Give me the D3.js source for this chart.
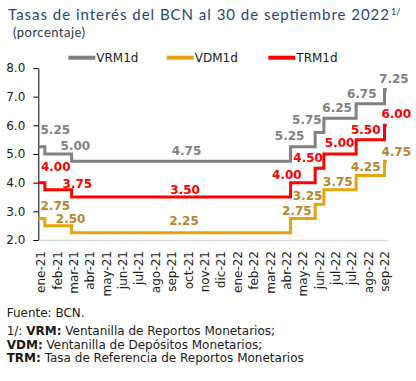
<!DOCTYPE html>
<html>
<head>
<meta charset="utf-8">
<script src="https://cdn.jsdelivr.net/npm/d3@7"></script>
<style>
  html, body { margin: 0; padding: 0; background: #fff; }
  svg { display: block; }
  text { font-family: "DejaVu Sans", Verdana, sans-serif; }
</style>
</head>
<body>
<svg id="chart" width="416" height="381"></svg>
<script>
// ---------------- DATA ----------------
const changeDates = ["2021-01-03","2021-01-15","2021-03-05","2022-04-10","2022-05-25","2022-06-10","2022-08-08","2022-09-29"];
const endDate = "2022-10-03";
const seriesNames = ["VRM1d", "VDM1d", "TRM1d"];
const vrm = [5.25, 5.00, 4.75, 5.25, 5.75, 6.25, 6.75, 7.25];
const vdm = [2.75, 2.50, 2.25, 2.75, 3.25, 3.75, 4.25, 4.75];
const trm = [4.00, 3.75, 3.50, 4.00, 4.50, 5.00, 5.50, 6.00];
const yTicks = [2, 3, 4, 5, 6, 7, 8];
const firstTickDate = "2021-01-07";
const tickLabels = ["ene-21","feb-21","mar-21","abr-21","may-21","jun-21","jul-21","ago-21","sep-21","oct-21","nov-21","dic-21",
                    "ene-22","feb-22","mar-22","abr-22","may-22","jun-22","jul-22","jul-22","ago-22","sep-22"];

// ---------------- LAYOUT / STYLE ----------------
const W = 416, H = 381;
const plot = { left: 38.3, right: 386.7, top: 68, bottom: 240 };
const colors = { VRM1d: "#808080", VDM1d: "#e6a30c", TRM1d: "#ff0000" };
const labelColors = { VRM1d: "#828282", VDM1d: "#b8862b", TRM1d: "#ff0000" };
// label nudges (pixels) relative to each segment start / level
const labelDx = {
  VRM1d: [17, 30.5, 114.9, -1, -8.3, 13.2, 5.6, 9.4],
  VDM1d: [17, 25.8, 112.4, 6.3, -7.5, 14, 9.6, 11.7],
  TRM1d: [17.4, 32.5, 113.5, -3.7, -7, 15.7, 9.6, 11.7]
};
const labelDy = {
  VRM1d: [-12.8, -4, -6, -7, -8.5, -6, -5.5, -6.2],
  VDM1d: [-8.5, -2.7, -7.8, -3.5, -4.2, -4, -4.5, -5.5],
  TRM1d: [-11.7, -2, -3, -3.7, -6.3, -7, -5.7, -7.3]
};

const parse = d3.timeParse("%Y-%m-%d");
const dates = changeDates.map(parse);
const end = parse(endDate);
const seriesVals = { VRM1d: vrm, VDM1d: vdm, TRM1d: trm };

const svg = d3.select("#chart");
svg.append("rect").attr("width", W).attr("height", H).attr("fill", "#fff");

const x = d3.scaleTime().domain([dates[0], end]).range([plot.left, plot.right]);
const y = d3.scaleLinear().domain([2, 8]).range([plot.bottom, plot.top]);

// ---------------- TITLE ----------------
svg.append("text")
  .attr("x", 8).attr("y", 20)
  .attr("fill", "#24477a")
  .style("font-family", "Lato, 'Open Sans', sans-serif")
  .style("font-size", "15px")
  .attr("textLength", 381).attr("lengthAdjust", "spacing")
  .text("Tasas de interés del BCN al 30 de septiembre 2022");
svg.append("text")
  .attr("x", 391).attr("y", 15)
  .attr("fill", "#24477a")
  .style("font-family", "Lato, 'Open Sans', sans-serif")
  .style("font-size", "9px")
  .text("1/");
svg.append("text")
  .attr("x", 13).attr("y", 37)
  .attr("fill", "#2b3550")
  .style("font-family", "Lato, 'Open Sans', sans-serif")
  .style("font-size", "13px")
  .attr("textLength", 72).attr("lengthAdjust", "spacing")
  .text("(porcentaje)");

// ---------------- LEGEND ----------------
const legendX = [68.3, 166.7, 268.3];
const legendY = 57.7;
seriesNames.forEach((name, i) => {
  const g = svg.append("g");
  g.append("line")
    .attr("x1", legendX[i]).attr("x2", legendX[i] + 27)
    .attr("y1", legendY).attr("y2", legendY)
    .attr("stroke", colors[name]).attr("stroke-width", 4);
  g.append("text")
    .attr("x", legendX[i] + 28).attr("y", legendY + 4.3)
    .attr("fill", "#1a1a1a")
    .style("font-size", "12px")
    .text(name);
});

// ---------------- AXES ----------------
const yAxis = svg.append("g")
  .attr("transform", `translate(${plot.left},0)`)
  .call(d3.axisLeft(y).tickValues(yTicks).tickFormat(d3.format(".1f")).tickSize(5).tickPadding(8).tickSizeOuter(0));
yAxis.select(".domain").attr("stroke", "#000").attr("stroke-width", 1);
yAxis.selectAll(".tick line").attr("stroke", "#000");
yAxis.selectAll(".tick text").attr("fill", "#1a1a1a").style("font-size", "12px").style("font-family", "'DejaVu Sans', Verdana, sans-serif");

const tickDates = tickLabels.map((_, i) => d3.timeDay.offset(parse(firstTickDate), 30 * i));
const xAxis = svg.append("g")
  .attr("transform", `translate(0,${plot.bottom})`)
  .call(d3.axisBottom(x).tickValues(tickDates).tickFormat((d, i) => tickLabels[i]).tickSize(0).tickSizeOuter(0).tickPadding(0));
xAxis.select(".domain").attr("stroke", "#d9d9d9").attr("stroke-width", 1.5);
xAxis.selectAll(".tick text")
  .attr("fill", "#1a1a1a")
  .style("font-size", "12px")
  .style("font-family", "'DejaVu Sans', Verdana, sans-serif")
  .attr("text-anchor", "end")
  .attr("transform", "rotate(-90)")
  .attr("x", -11).attr("y", 0).attr("dy", "0.35em");

// ---------------- LINES ----------------
const line = d3.line().curve(d3.curveStepAfter).x(d => x(d.date)).y(d => y(d.value));
["VRM1d", "VDM1d", "TRM1d"].forEach(name => {
  const vals = seriesVals[name];
  const pts = dates.map((d, i) => ({ date: d, value: vals[i] }));
  pts.push({ date: end, value: vals[vals.length - 1] });
  svg.append("path")
    .datum(pts)
    .attr("d", line)
    .attr("fill", "none")
    .attr("stroke", colors[name])
    .attr("stroke-width", 3)
    .attr("stroke-linejoin", "miter")
    .attr("stroke-linecap", "butt");
});

// ---------------- DATA LABELS ----------------
["VRM1d", "VDM1d", "TRM1d"].forEach(name => {
  const vals = seriesVals[name];
  svg.append("g").selectAll("text")
    .data(vals)
    .join("text")
    .attr("x", (v, i) => x(dates[i]) + labelDx[name][i])
    .attr("y", (v, i) => y(v) + labelDy[name][i])
    .attr("text-anchor", "middle")
    .attr("fill", labelColors[name])
    .style("font-size", "12px")
    .style("font-weight", "bold")
    .text(v => d3.format(".2f")(v));
});

// ---------------- FOOTNOTES ----------------
const notes = [
  [["", "Fuente: BCN."]],
  [["", "1/: "], ["b", "VRM:"], ["", " Ventanilla de Reportos Monetarios;"]],
  [["b", "VDM:"], ["", " Ventanilla de Depósitos Monetarios;"]],
  [["b", "TRM:"], ["", " Tasa de Referencia de Reportos Monetarios"]]
];
const noteY = [317, 335, 348.5, 362];
notes.forEach((parts, i) => {
  const t = svg.append("text")
    .attr("x", 6.7).attr("y", noteY[i])
    .attr("fill", "#1a1a1a")
    .style("font-size", "12px");
  parts.forEach(([s, str]) => {
    t.append("tspan").style("font-weight", s === "b" ? "bold" : "normal").text(str);
  });
});
</script>
</body>
</html>
